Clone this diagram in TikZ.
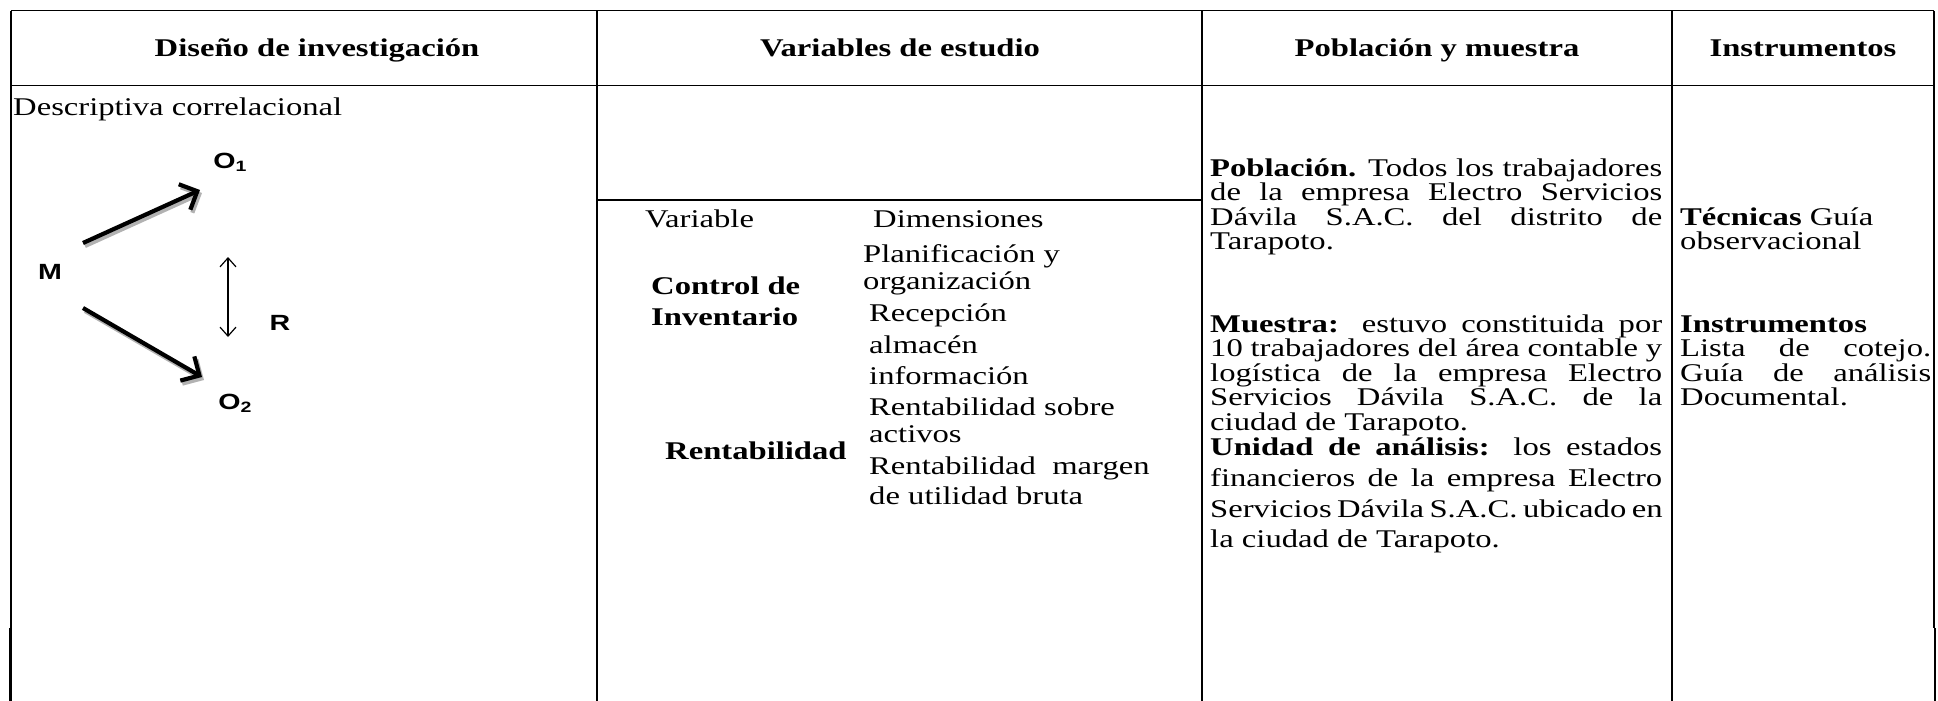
\documentclass[tikz,border=0pt]{standalone}
\usepackage{fontspec}
\setmainfont{Liberation Serif}[FakeStretch=1.28]
\newfontfamily\diagfont{Liberation Sans}[FakeStretch=1.3]
\usetikzlibrary{arrows.meta}
\newcommand{\jl}[2]{\makebox[#1pt][s]{#2}}
\begin{document}
\begin{tikzpicture}[x=1pt,y=-1pt,
  grid/.style={line width=1.2pt},
  txt/.style={anchor=base west, inner sep=0pt, font=\fontsize{25.5}{26}\selectfont},
  btxt/.style={txt, font=\fontsize{25.5}{26}\selectfont\bfseries},
  hdr/.style={anchor=base, inner sep=0pt, font=\fontsize{25.5}{26}\selectfont\bfseries},
  dlab/.style={inner sep=0pt, font=\diagfont\bfseries\fontsize{22}{22}\selectfont},
  bigarrow/.style={line width=4.2pt, -{Straight Barb[length=14pt,width=28pt]}},
  shadowarrow/.style={bigarrow, draw=black!30},
  thinarrow/.style={line width=1.2pt, {Straight Barb[length=9pt,width=16pt]}-{Straight Barb[length=9pt,width=16pt]}}
]
\useasboundingbox (0,0) rectangle (1938,701);
% table grid
\draw[grid] (11,10.7) -- (1934,10.7);
\draw[grid] (11,85.5) -- (1934,85.5);
\draw[grid] (11,10.7) -- (11,628);
\draw[grid] (597,10.7) -- (597,701);
\draw[grid] (1202,10.7) -- (1202,701);
\draw[grid] (1672,10.7) -- (1672,701);
\draw[grid] (1934,10.7) -- (1934,628);
\draw[grid] (597,200) -- (1202,200);
\draw[line width=2.8pt] (10.5,628) -- (10.5,701);
\draw[line width=2.8pt] (1935,628) -- (1935,701);
% headers
\node[hdr] (h1) at (317,57) {Diseño de investigación};
\node[hdr] (h2) at (900,57) {Variables de estudio};
\node[hdr] (h3) at (1437,57) {Población y muestra};
\node[hdr] (h4) at (1803,57) {Instrumentos};
% column 1
\node[txt] (desc) at (13,115) {Descriptiva correlacional};
\node[dlab] (M) at (50,272) {M};
\node[dlab] (O1) at (230,162) {O\raisebox{-3pt}{\fontsize{15}{15}\selectfont 1}};
\node[dlab] (O2) at (235,403) {O\raisebox{-3pt}{\fontsize{15}{15}\selectfont 2}};
\node[dlab] (R) at (280,323) {R};
\coordinate (a1s) at (83,243);
\coordinate (a1e) at (200,190);
\coordinate (a2s) at (83,308);
\coordinate (a2e) at (202,377);
\coordinate (r1) at (228,257);
\coordinate (r2) at (228,337);
\draw[shadowarrow] ([shift={(2,3)}]a1s) -- ([shift={(2,3)}]a1e);
\draw[shadowarrow] ([shift={(2,3)}]a2s) -- ([shift={(2,3)}]a2e);
\draw[bigarrow] (a1s) -- (a1e);
\draw[bigarrow] (a2s) -- (a2e);
\draw[thinarrow] (r1) -- (r2);
% column 2
\node[txt] (var) at (645,227) {Variable};
\node[txt] (dim) at (873,227) {Dimensiones};
\node[txt] (d1a) at (863,262) {Planificación y};
\node[txt] (d1b) at (863,289) {organización};
\node[btxt] (v1a) at (651,294) {Control de};
\node[btxt] (v1b) at (651,325) {Inventario};
\node[txt] (d2) at (869,321) {Recepción};
\node[txt] (d3) at (869,353) {almacén};
\node[txt] (d4) at (869,384) {información};
\node[txt] (d5a) at (869,415) {Rentabilidad sobre};
\node[txt] (d5b) at (869,442) {activos};
\node[btxt] (v2) at (665,459) {Rentabilidad};
\node[txt] (d6a) at (869,474) {Rentabilidad\ \ margen};
\node[txt] (d6b) at (869,504) {de utilidad bruta};
% column 3
\node[txt] (p1) at (1210,176) {\jl{452}{\textbf{Población.} Todos los trabajadores}};
\node[txt] (p2) at (1210,200.5) {\jl{452}{de la empresa Electro Servicios}};
\node[txt] (p3) at (1210,225) {\jl{452}{Dávila S.A.C. del distrito de}};
\node[txt] (p4) at (1210,249.5) {Tarapoto.};
\node[txt] (m1) at (1210,332) {\jl{452}{\textbf{Muestra:} estuvo constituida por}};
\node[txt] (m2) at (1210,356.5) {\jl{452}{10 trabajadores del área contable y}};
\node[txt] (m3) at (1210,381) {\jl{452}{logística de la empresa Electro}};
\node[txt] (m4) at (1210,405.5) {\jl{452}{Servicios Dávila S.A.C. de la}};
\node[txt] (m5) at (1210,430) {ciudad de Tarapoto.};
\node[txt] (u1) at (1210,455) {\jl{452}{\textbf{Unidad de análisis:} los estados}};
\node[txt] (u2) at (1210,486) {\jl{452}{financieros de la empresa Electro}};
\node[txt] (u3) at (1210,517) {\jl{452}{Servicios Dávila S.A.C. ubicado en}};
\node[txt] (u4) at (1210,547) {la ciudad de Tarapoto.};
% column 4
\node[txt] (t1) at (1680,225) {\textbf{Técnicas} Guía};
\node[txt] (t2) at (1680,249.5) {observacional};
\node[btxt] (i1) at (1680,332) {Instrumentos};
\node[txt] (i2) at (1680,356.5) {\jl{251}{Lista de cotejo.}};
\node[txt] (i3) at (1680,381) {\jl{251}{Guía de análisis}};
\node[txt] (i4) at (1680,405.5) {Documental.};
\end{tikzpicture}
\end{document}
